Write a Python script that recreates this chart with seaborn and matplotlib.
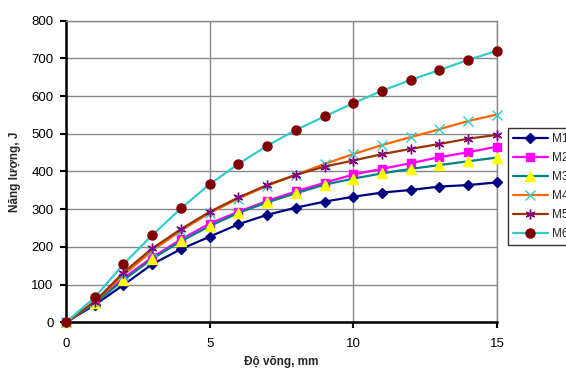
import matplotlib
matplotlib.use("Agg")
import matplotlib.pyplot as plt
import seaborn as sns
import pandas as pd

x_mm = list(range(16))
series_names = ["M1", "M2", "M3", "M4", "M5", "M6"]
m1 = [0, 46, 99, 154, 194, 227, 260, 285, 304, 320, 333, 344, 351, 360, 364, 371]
m2 = [0, 52, 117, 172, 220, 262, 293, 322, 347, 370, 392, 407, 422, 438, 451, 466]
m3 = [0, 50, 112, 168, 215, 255, 290, 318, 342, 365, 381, 395, 407, 417, 427, 437]
m4 = [0, 55, 125, 190, 243, 290, 328, 362, 391, 420, 446, 470, 491, 512, 534, 551]
m5 = [0, 55, 132, 196, 247, 293, 331, 364, 391, 413, 429, 446, 460, 473, 487, 497]
m6 = [0, 66, 154, 231, 302, 366, 420, 468, 510, 546, 581, 614, 643, 669, 696, 720]
values = [m1, m2, m3, m4, m5, m6]

x_label = "Độ võng, mm"
y_label = "Năng lượng, J"

sns.set_theme(style="white")
plt.rcParams['font.family'] = ['Liberation Sans', 'DejaVu Sans']

df = pd.DataFrame({
    "x": x_mm * len(series_names),
    "y": sum(values, []),
    "s": sum([[n] * len(x_mm) for n in series_names], []),
})

styles = {
    "M1": dict(color="#000080", marker="D", mfc="#000080", mec="#000080", ms=5.5),
    "M2": dict(color="#FF00FF", marker="s", mfc="#FF00FF", mec="#FF00FF", ms=6),
    "M3": dict(color="#008080", marker="^", mfc="#FFFF00", mec="#FFFF00", ms=7),
    "M4": dict(color="#FF6600", marker="x", mfc="#33CCCC", mec="#33CCCC", ms=7, mew=1.0),
    "M5": dict(color="#993300", marker=(6, 2, 0), mfc="#800080", mec="#800080", ms=7, mew=1.0),
    "M6": dict(color="#33CCCC", marker="o", mfc="#800000", mec="#800000", ms=6.5),
}

fig = plt.figure(figsize=(5.66, 3.69), dpi=100)
ax = fig.add_axes([0.1166, 0.1266, 0.878 - 0.1166, 0.944 - 0.1266])

for name in series_names:
    st = styles[name]
    sub = df[df["s"] == name]
    sns.lineplot(data=sub, x="x", y="y", ax=ax, color=st["color"], linewidth=1.6,
                 marker=st["marker"], markerfacecolor=st["mfc"], markeredgecolor=st["mec"],
                 markersize=st["ms"], markeredgewidth=st.get("mew", 1.0),
                 label=name, clip_on=False, zorder=3)

ax.set_xlim(0, 15)
ax.set_ylim(0, 800)
ax.set_xticks([0, 5, 10, 15])
ax.set_yticks(range(0, 801, 100))
ax.grid(True, color="#888888", linewidth=1.0)
ax.set_axisbelow(True)
for side in ["top", "right"]:
    ax.spines[side].set_color("#888888")
    ax.spines[side].set_linewidth(1.0)
for side in ["left", "bottom"]:
    ax.spines[side].set_color("black")
    ax.spines[side].set_linewidth(1.8)
ax.tick_params(axis="both", which="both", direction="out", length=4, width=1.5,
               color="black", labelsize=9.5, labelcolor="black", bottom=True, left=True)
ax.tick_params(axis="x", pad=7)
ax.tick_params(axis="y", pad=5)
ax.set_xlabel(x_label, fontsize=8.5, fontweight="bold")
ax.set_ylabel(y_label, fontsize=8.5, fontweight="bold")
ax.xaxis.set_label_coords(0.5, -0.113)
ax.yaxis.set_label_coords(-0.105, 0.5)

leg = ax.legend(loc="upper left", bbox_to_anchor=(0.8975, 0.653), bbox_transform=fig.transFigure,
                frameon=True, fancybox=False, fontsize=8.5, handlelength=3.0,
                handletextpad=0.3, labelspacing=0.6, borderpad=0.4, borderaxespad=0)
leg.get_frame().set_edgecolor("black")
leg.get_frame().set_linewidth(1.0)

fig.savefig("out.png", dpi=100)
